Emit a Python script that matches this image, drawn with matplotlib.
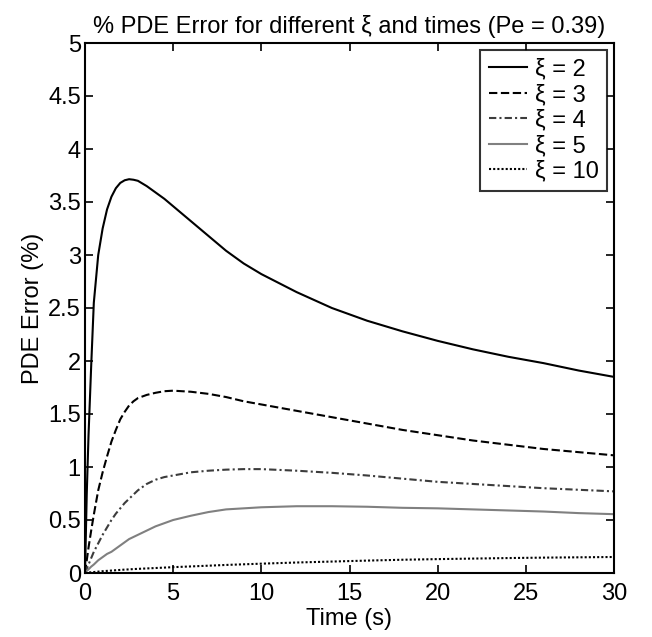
import matplotlib
matplotlib.use("Agg")
import matplotlib.pyplot as plt

plt.rcParams['font.family'] = ['Liberation Sans', 'DejaVu Sans']

# time points (s)
time = [0, 0.1, 0.2, 0.35, 0.5, 0.75, 1, 1.25, 1.5, 1.75, 2, 2.25, 2.5, 2.75, 3, 3.5, 4, 4.5, 5,
        6, 7, 8, 9, 10, 12, 14, 16, 18, 20, 22, 24, 26, 28, 30]

# % PDE error for each xi
err_xi2 = [0, 0.75, 1.3, 1.95, 2.55, 3.0, 3.25, 3.43, 3.55, 3.63, 3.68, 3.705, 3.715, 3.71, 3.70, 3.65, 3.59, 3.53, 3.46,
           3.32, 3.18, 3.04, 2.92, 2.82, 2.65, 2.50, 2.38, 2.28, 2.19, 2.11, 2.04, 1.98, 1.91, 1.85]
err_xi3 = [0, 0.12, 0.24, 0.40, 0.55, 0.78, 0.95, 1.10, 1.24, 1.35, 1.45, 1.52, 1.58, 1.62, 1.65, 1.68, 1.70, 1.715, 1.72,
           1.71, 1.69, 1.66, 1.62, 1.59, 1.53, 1.47, 1.41, 1.35, 1.30, 1.25, 1.21, 1.17, 1.14, 1.11]
err_xi4 = [0, 0.04, 0.08, 0.14, 0.20, 0.28, 0.36, 0.43, 0.50, 0.56, 0.61, 0.66, 0.70, 0.74, 0.78, 0.84, 0.88, 0.905, 0.92,
           0.95, 0.965, 0.975, 0.98, 0.98, 0.965, 0.945, 0.92, 0.89, 0.86, 0.84, 0.82, 0.80, 0.785, 0.77]
err_xi5 = [0, 0.02, 0.035, 0.06, 0.08, 0.12, 0.15, 0.18, 0.20, 0.23, 0.26, 0.29, 0.32, 0.34, 0.36, 0.40, 0.44, 0.47, 0.50,
           0.54, 0.575, 0.60, 0.61, 0.62, 0.63, 0.63, 0.625, 0.615, 0.61, 0.60, 0.59, 0.58, 0.565, 0.555]
err_xi10 = [0, 0.002, 0.004, 0.007, 0.009, 0.013, 0.017, 0.020, 0.023, 0.026, 0.029, 0.032, 0.034, 0.037, 0.039, 0.043, 0.047, 0.051, 0.055,
            0.062, 0.069, 0.076, 0.082, 0.088, 0.099, 0.108, 0.117, 0.125, 0.131, 0.136, 0.141, 0.145, 0.148, 0.151]

labels = ["ξ = 2", "ξ = 3", "ξ = 4", "ξ = 5", "ξ = 10"]

fig = plt.figure(figsize=(6.52, 6.37), dpi=100)
ax = fig.add_axes([85 / 652, 1 - 573 / 637, 529 / 652, 530 / 637])

lw = 1.5
ax.plot(time, err_xi2, color="black", linestyle="-", linewidth=lw, label=labels[0])
ax.plot(time, err_xi3, color="black", linestyle=(0, (4, 1.7)), linewidth=lw, label=labels[1])
ax.plot(time, err_xi4, color="#3c3c3c", linestyle=(0, (3.5, 1.5, 1, 1.5)), linewidth=lw, label=labels[2])
ax.plot(time, err_xi5, color="#808080", linestyle="-", linewidth=lw, label=labels[3])
ax.plot(time, err_xi10, color="black", linestyle=(0, (1, 1)), linewidth=lw, label=labels[4])

ax.set_xlim(0, 30)
ax.set_ylim(0, 5)
ax.set_xticks([0, 5, 10, 15, 20, 25, 30])
ax.set_yticks([0, 0.5, 1, 1.5, 2, 2.5, 3, 3.5, 4, 4.5, 5])
ax.set_yticklabels(["0", "0.5", "1", "1.5", "2", "2.5", "3", "3.5", "4", "4.5", "5"])
ax.tick_params(direction="in", top=True, right=True, labelsize=17, length=6, width=1.2, pad=3)
ax.tick_params(axis="x", pad=7)
for s in ax.spines.values():
    s.set_linewidth(1.5)

ax.set_xlabel("Time (s)", fontsize=17, labelpad=2)
ax.set_ylabel("PDE Error (%)", fontsize=17, labelpad=3)
ax.set_title("% PDE Error for different ξ and times (Pe = 0.39)", fontsize=17, pad=7)

leg = ax.legend(loc="upper right", fontsize=17, frameon=True, fancybox=False,
                edgecolor="black", handlelength=1.6, borderaxespad=0.3,
                labelspacing=0.15, handletextpad=0.35, borderpad=0.35)
leg.get_frame().set_linewidth(1.5)

fig.savefig("out.png", dpi=100)
